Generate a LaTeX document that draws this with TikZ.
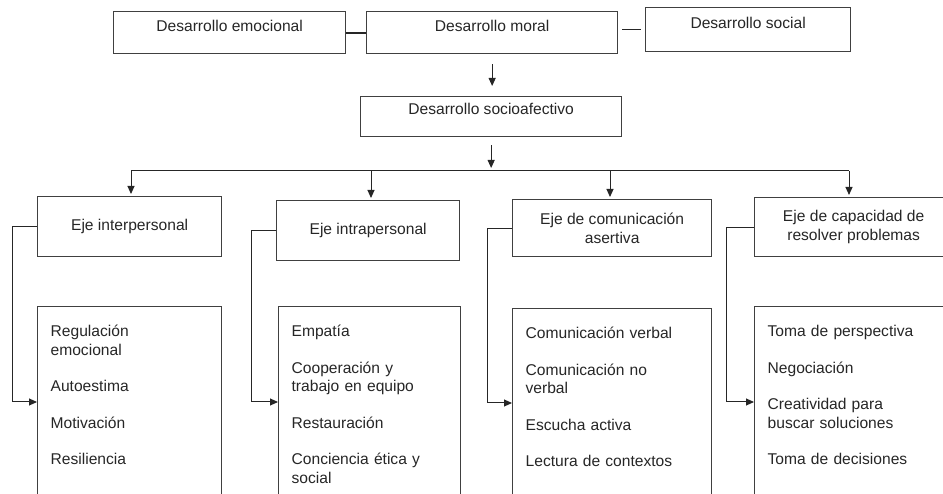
\documentclass[tikz,border=0pt]{standalone}
\usepackage{fontspec}
\setmainfont{Liberation Sans}
\usetikzlibrary{arrows.meta}

\tikzset{
  caja/.style={draw=black!75, line width=1.3pt, anchor=north west, inner ysep=4pt, text height=15.5pt, text depth=18pt},
  eje/.style={draw=black!75, line width=1.3pt, anchor=north west, align=center, minimum height=60pt},
  lista/.style={draw=black!75, line width=1.3pt, anchor=north west, align=left, inner xsep=13pt, inner ysep=5pt, text height=25pt, text depth=200pt},
  flecha/.style={draw=black!85, line width=1pt, -{Triangle[length=8pt,width=7pt]}},
  linea/.style={draw=black!85, line width=1pt}
}

\begin{document}
\begin{tikzpicture}[x=1pt, y=-1pt, text=black!85, font=\fontsize{15.6pt}{18.5pt}\selectfont]
      \useasboundingbox (0,0) rectangle (943,494);
      \clip (0,0) rectangle (943,494);

      \node[caja, minimum width=232pt, minimum height=42pt] (des-emo) at (113,11) {Desarrollo emocional};
      \node[caja, minimum width=251pt, minimum height=42pt] (des-moral) at (366,11) {Desarrollo moral};
      \node[caja, minimum width=205pt, minimum height=44pt] (des-social) at (645,7) {Desarrollo social};
      \node[caja, text height=14pt, minimum width=261pt, minimum height=40pt] (des-socio) at (360,96) {Desarrollo socioafectivo};

      \node[eje, minimum width=184pt] (eje-1) at (37,196) {Eje interpersonal};
      \node[eje, minimum width=183pt] (eje-2) at (276,200) {Eje intrapersonal};
      \node[eje, minimum width=199pt, minimum height=57pt] (eje-3) at (512,199) {Eje de comunicación\\asertiva};
      \node[eje, minimum width=198pt, minimum height=59pt] (eje-4) at (754,197) {Eje de capacidad de\\resolver problemas};

      \node[lista, text width=158pt] (lista-1) at (37,306) {Regulación\\emocional\\[18pt]Autoestima\\[18pt]Motivación\\[18pt]Resiliencia};
      \node[lista, text width=156pt] (lista-2) at (278,306) {Empatía\\[18pt]Cooperación y\\trabajo en equipo\\[18pt]Restauración\\[18pt]Conciencia ética y\\social};
      \node[lista, text width=173pt] (lista-3) at (512,308) {Comunicación verbal\\[18pt]Comunicación no\\verbal\\[18pt]Escucha activa\\[18pt]Lectura de contextos};
      \node[lista, text width=172pt] (lista-4) at (754,306) {Toma de perspectiva\\[18pt]Negociación\\[18pt]Creatividad para\\buscar soluciones\\[18pt]Toma de decisiones};

      \draw[linea, line width=1.8pt] (des-emo) -- (des-moral);
      \draw[linea] ([xshift=4pt]des-moral.east |- des-social.west) -- ([xshift=-4pt]des-social.west);
      \draw[flecha, shorten <=10pt, shorten >=10pt] (des-moral) -- (des-moral |- des-socio.north);

      \coordinate (barra-1) at (131,171);
      \coordinate (barra-2) at (371,171);
      \coordinate (barra-3) at (610,171);
      \coordinate (barra-4) at (849,171);
      \draw[flecha, shorten <=8pt, shorten >=3pt] (des-socio) -- (des-socio |- barra-1);
      \draw[linea] (barra-1) -- (barra-4);
      \draw[flecha, shorten >=2pt] (barra-1) -- (barra-1 |- eje-1.north);
      \draw[flecha, shorten >=2pt] (barra-2) -- (barra-2 |- eje-2.north);
      \draw[flecha, shorten >=2pt] (barra-3) -- (barra-3 |- eje-3.north);
      \draw[flecha, shorten >=2pt] (barra-4) -- (barra-4 |- eje-4.north);

      \coordinate (codo-1) at (12,402);
      \coordinate (codo-2) at (251,402);
      \coordinate (codo-3) at (487,403);
      \coordinate (codo-4) at (726,402);
      \draw[flecha] (eje-1.west) -| (codo-1) -- (codo-1 -| lista-1.west);
      \draw[flecha] (eje-2.west) -| (codo-2) -- (codo-2 -| lista-2.west);
      \draw[flecha] (eje-3.west) -| (codo-3) -- (codo-3 -| lista-3.west);
      \draw[flecha] (eje-4.west) -| (codo-4) -- (codo-4 -| lista-4.west);
    \end{tikzpicture}
\end{document}
